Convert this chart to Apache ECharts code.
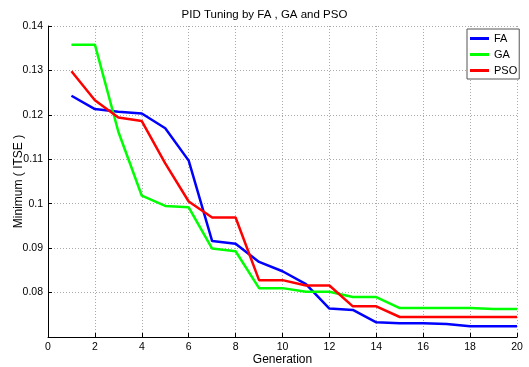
<!DOCTYPE html>
<html>
<head>
<meta charset="utf-8">
<script src="https://cdn.jsdelivr.net/npm/echarts@6/dist/echarts.min.js"></script>
<style>
html,body{margin:0;padding:0;background:#fff;}
#main{width:529px;height:367px;}
</style>
</head>
<body>
<div id="main"></div>
<script>
// generations 1..20
var generations=[1,2,3,4,5,6,7,8,9,10,11,12,13,14,15,16,17,18,19,20];
var faValues=[0.1243,0.1213,0.1207,0.1203,0.1170,0.1097,0.0916,0.0910,0.0869,0.0848,0.0819,0.0764,0.0761,0.0733,0.0731,0.0731,0.0729,0.0724,0.0724,0.0724];
var gaValues=[0.1358,0.1358,0.1162,0.1018,0.0995,0.0992,0.0899,0.0893,0.0810,0.0810,0.0802,0.0802,0.0790,0.0790,0.0765,0.0765,0.0765,0.0765,0.0763,0.0763];
var psoValues=[0.1298,0.1233,0.1194,0.1186,0.1091,0.1005,0.0969,0.0969,0.0828,0.0828,0.0816,0.0816,0.0769,0.0769,0.0745,0.0745,0.0745,0.0745,0.0745,0.0745];
var seriesNames=['FA','GA','PSO'];
var seriesColors=['#0000ff','#00ff00','#ff0000'];

function pairs(vals){
	return generations.map(function(g,i){return [g,vals[i]];});
}

var chart=echarts.init(document.getElementById('main'));
var font='"Liberation Sans", Arial, sans-serif';
var option={
	animation:false,
	title:{
		text:'PID Tuning by FA , GA and PSO',
		left:'center',
		top:4,
		textStyle:{fontFamily:font,fontSize:11.5,fontWeight:'normal',color:'#000'}
	},
	legend:{
		orient:'vertical',
		left:467,
		top:29,
		itemWidth:19,
		itemHeight:3,
		itemGap:5,
		padding:[4,2,3,3],
		borderColor:'#555',
		borderWidth:1,
		backgroundColor:'#fff',
		textStyle:{fontFamily:font,fontSize:11,color:'#000'},
		data:seriesNames.map(function(n){return {name:n,icon:'rect'};})
	},
	grid:{left:48,right:12,top:26,bottom:30,outerBoundsMode:'none'},
	xAxis:{
		type:'value',
		min:0,max:20,interval:2,
		name:'Generation',
		nameLocation:'middle',
		nameGap:17,
		nameMoveOverlap:false,
		nameTextStyle:{fontFamily:font,fontSize:12,color:'#000'},
		axisLine:{lineStyle:{color:'#000',width:1}},
		axisTick:{inside:true,length:4,lineStyle:{color:'#000'}},
		axisLabel:{fontFamily:font,fontSize:10.5,color:'#000',margin:5},
		splitLine:{show:true,lineStyle:{color:'#aaa',type:[1,2],width:1}}
	},
	yAxis:{
		type:'value',
		min:0.07,max:0.14,interval:0.01,
		name:'Minimum ( ITSE )',
		nameLocation:'middle',
		nameRotate:90,
		nameGap:23,
		nameMoveOverlap:false,
		nameTextStyle:{fontFamily:font,fontSize:12,color:'#000'},
		axisLine:{show:true,lineStyle:{color:'#000',width:1}},
		axisTick:{inside:true,length:4,lineStyle:{color:'#000'}},
		axisLabel:{
			fontFamily:font,fontSize:10.5,color:'#000',margin:5,
			formatter:function(v){
				if(Math.abs(v-0.07)<1e-6) return '';
				return String(parseFloat(v.toFixed(2)));
			}
		},
		splitLine:{show:true,lineStyle:{color:'#aaa',type:[1,2],width:1}}
	},
	series:[faValues,gaValues,psoValues].map(function(vals,i){
		return {
			name:seriesNames[i],
			type:'line',
			symbol:'none',
			data:pairs(vals),
			color:seriesColors[i],
			lineStyle:{width:2.5,color:seriesColors[i]}
		};
	})
};
chart.setOption(option);
</script>
</body>
</html>
